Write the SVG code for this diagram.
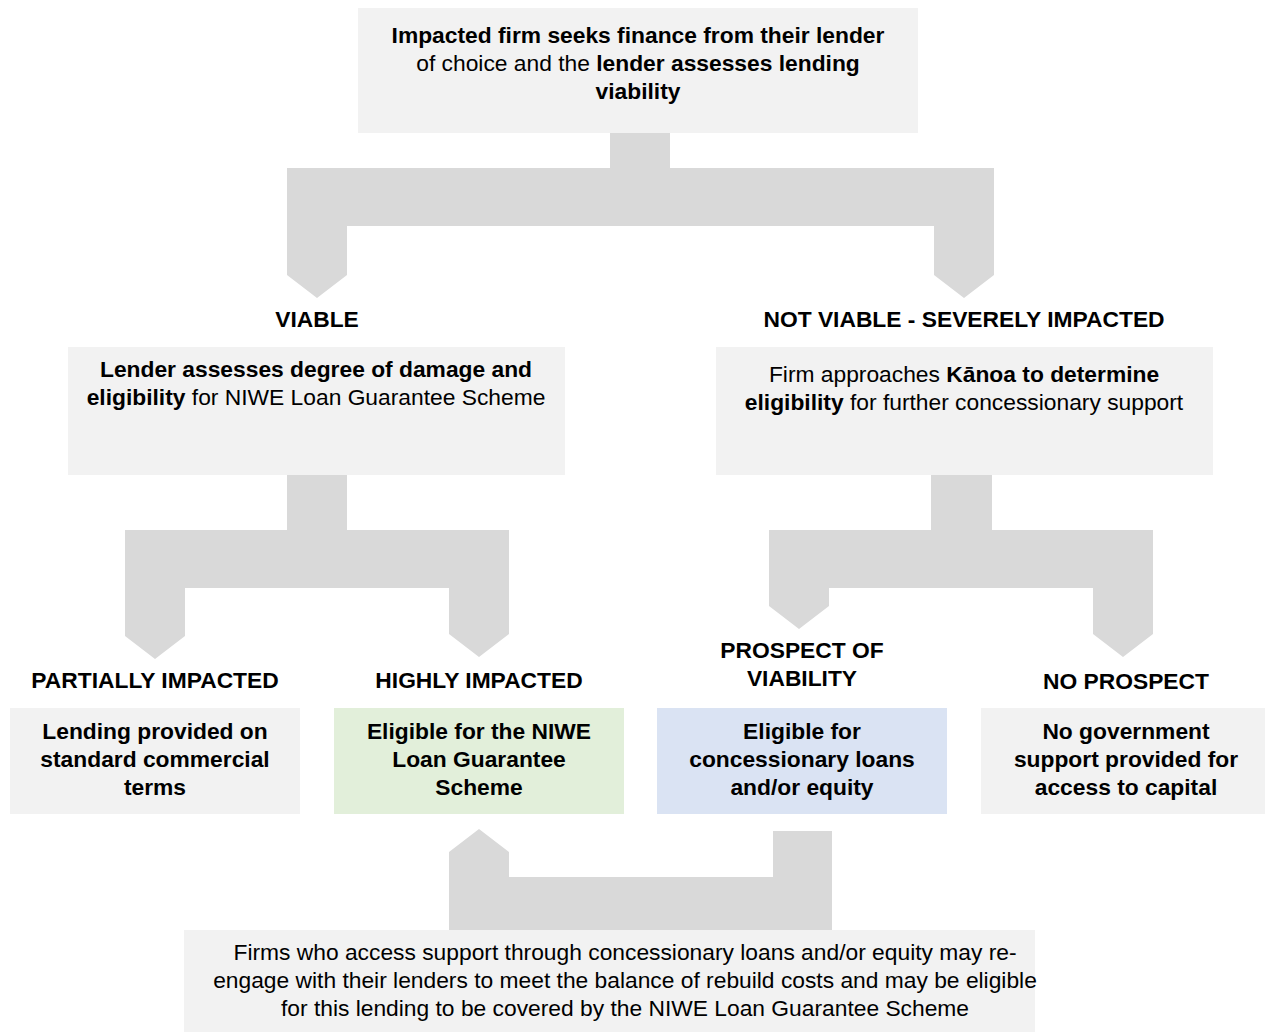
<svg xmlns="http://www.w3.org/2000/svg" width="1265" height="1032" viewBox="0 0 1265 1032">
  <style>
    text { font-family: "Liberation Sans", Arial, sans-serif; font-size: 22.8px; fill: #000; text-anchor: middle; }
    .b { font-weight: bold; }
    .box { fill: #f2f2f2; }
    .green { fill: #e2efda; }
    .blue { fill: #dae3f3; }
    .conn { fill: #d9d9d9; }
  </style>
  <rect width="1265" height="1032" fill="#ffffff"/>

  <!-- block connectors -->
  <g id="connectors">
    <polygon class="conn" points="610,133 670,133 670,168 994,168 994,275 964,298 934,275 934,226 347,226 347,275 317,298 287,275 287,168 610,168"/>
    <polygon class="conn" points="287,475 347,475 347,530 509,530 509,634 479,657 449,634 449,588 185,588 185,636 155,659 125,636 125,530 287,530"/>
    <polygon class="conn" points="931,475 992,475 992,530 1153,530 1153,634 1123,657 1093,634 1093,588 829,588 829,606 799,629 769,606 769,530 931,530"/>
    <polygon class="conn" points="449,852 479,829 509,852 509,877 773,877 773,831 832,831 832,930 449,930"/>
  </g>

  <g id="start">
    <rect class="box" x="358" y="8" width="560" height="125"/>
    <text x="638" y="43" class="b">Impacted firm seeks finance from their lender</text>
    <text x="638" y="71">of choice and the <tspan class="b">lender assesses lending</tspan></text>
    <text x="638" y="99" class="b">viability</text>
  </g>

  <g id="viable">
    <text x="317" y="327" class="b">VIABLE</text>
    <rect class="box" x="68" y="347" width="497" height="128"/>
    <text x="316" y="377" class="b">Lender assesses degree of damage and</text>
    <text x="316" y="405"><tspan class="b">eligibility</tspan> for NIWE Loan Guarantee Scheme</text>
  </g>

  <g id="not-viable">
    <text x="964" y="327" class="b">NOT VIABLE - SEVERELY IMPACTED</text>
    <rect class="box" x="716" y="347" width="497" height="128"/>
    <text x="964" y="382">Firm approaches <tspan class="b">Kānoa to determine</tspan></text>
    <text x="964" y="410"><tspan class="b">eligibility</tspan> for further concessionary support</text>
  </g>

  <g id="partially-impacted">
    <text x="155" y="688" class="b">PARTIALLY IMPACTED</text>
    <rect class="box" x="10" y="708" width="290" height="106"/>
    <text x="155" y="739" class="b">Lending provided on</text>
    <text x="155" y="767" class="b">standard commercial</text>
    <text x="155" y="795" class="b">terms</text>
  </g>

  <g id="highly-impacted">
    <text x="479" y="688" class="b">HIGHLY IMPACTED</text>
    <rect class="green" x="334" y="708" width="290" height="106"/>
    <text x="479" y="739" class="b">Eligible for the NIWE</text>
    <text x="479" y="767" class="b">Loan Guarantee</text>
    <text x="479" y="795" class="b">Scheme</text>
  </g>

  <g id="prospect">
    <text x="802" y="658" class="b">PROSPECT OF</text>
    <text x="802" y="686" class="b">VIABILITY</text>
    <rect class="blue" x="657" y="708" width="290" height="106"/>
    <text x="802" y="739" class="b">Eligible for</text>
    <text x="802" y="767" class="b">concessionary loans</text>
    <text x="802" y="795" class="b">and/or equity</text>
  </g>

  <g id="no-prospect">
    <text x="1126" y="689" class="b">NO PROSPECT</text>
    <rect class="box" x="981" y="708" width="290" height="106"/>
    <text x="1126" y="739" class="b">No government</text>
    <text x="1126" y="767" class="b">support provided for</text>
    <text x="1126" y="795" class="b">access to capital</text>
  </g>

  <g id="re-engage">
    <rect class="box" x="184" y="930" width="851" height="102"/>
    <text x="625" y="960">Firms who access support through concessionary loans and/or equity may re-</text>
    <text x="625" y="988">engage with their lenders to meet the balance of rebuild costs and may be eligible</text>
    <text x="625" y="1016">for this lending to be covered by the NIWE Loan Guarantee Scheme</text>
  </g>
</svg>
